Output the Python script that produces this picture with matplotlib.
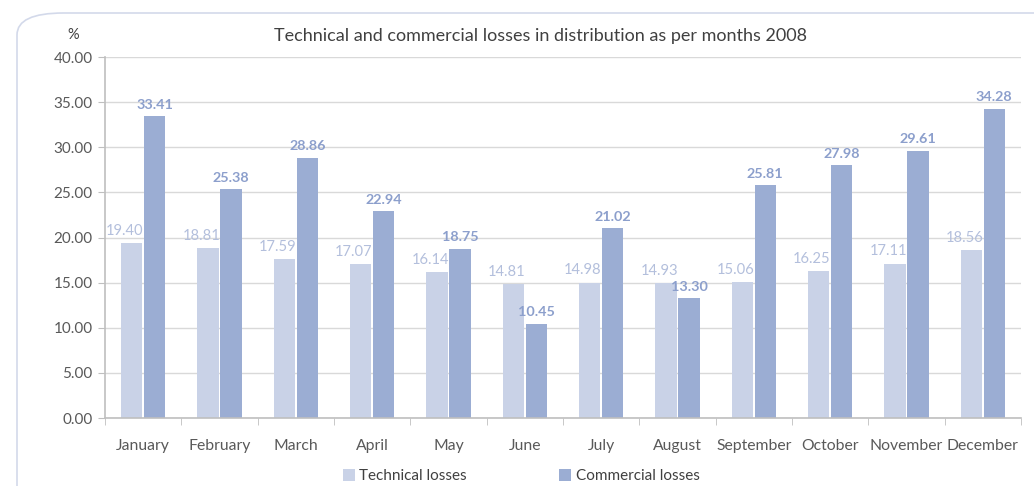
import numpy as np
import matplotlib
matplotlib.use('Agg')
import matplotlib.pyplot as plt
from matplotlib.patches import FancyBboxPatch, Patch

# Data
months = ['January', 'February', 'March', 'April', 'May', 'June', 'July',
          'August', 'September', 'October', 'November', 'December']
technical = [19.40, 18.81, 17.59, 17.07, 16.14, 14.81, 14.98, 14.93, 15.06, 16.25, 17.11, 18.56]
commercial = [33.41, 25.38, 28.86, 22.94, 18.75, 10.45, 21.02, 13.30, 25.81, 27.98, 29.61, 34.28]
y_ticks = [0, 5, 10, 15, 20, 25, 30, 35, 40]

tech_color = '#C9D2E7'
comm_color = '#9BADD3'
tech_label_color = '#B3BFDC'
comm_label_color = '#8C9FCC'
text_color = '#595959'

plt.rcParams['font.family'] = ['Lato', 'DejaVu Sans']

fig = plt.figure(figsize=(10.34, 4.86), dpi=100)

# rounded frame around the chart
frame = FancyBboxPatch((17 / 1034, -0.05), 1.05, 1 - 13 / 486 + 0.05,
                       boxstyle='round,pad=0,rounding_size=0.045',
                       transform=fig.transFigure, facecolor='none',
                       edgecolor='#D3D9EA', linewidth=1.2, zorder=-1)
fig.patches.append(frame)

ax = fig.add_axes([105 / 1034, 1 - 418 / 486, (1021 - 105) / 1034, (418 - 57) / 486])
ax.set_facecolor('none')

x = np.arange(len(months))
w = 0.28
off = 0.15
b1 = ax.bar(x - off, technical, w, color=tech_color, zorder=2)
b2 = ax.bar(x + off, commercial, w, color=comm_color, zorder=2)

# technical labels sit a bit left of their bars, like in the original
for xi, v in zip(x, technical):
    ax.text(xi - off - 0.09, v + 0.6, f'{v:.2f}', ha='center', va='bottom',
            fontsize=10.6, color=tech_label_color, zorder=3)
for xi, v in zip(x, commercial):
    ax.text(xi + off, v + 0.6, f'{v:.2f}', ha='center', va='bottom',
            fontsize=10.4, color=comm_label_color, fontweight='bold', zorder=3)

ax.set_xlim(-0.5, len(months) - 0.5)
ax.set_ylim(0, 40)
ax.set_yticks(y_ticks)
ax.set_yticklabels([f'{t:.2f}' for t in y_ticks], fontsize=11, color=text_color)
ax.set_xticks(x)
ax.set_xticklabels(months, fontsize=11.3, color=text_color)
ax.set_xticks(np.arange(-0.5, len(months)), minor=True)
ax.tick_params(axis='x', which='major', length=0, pad=15)
ax.tick_params(axis='x', which='minor', length=5, color='#BFBFBF', direction='out')
ax.tick_params(axis='y', length=5, color='#BFBFBF', direction='out', pad=4)

ax.grid(axis='y', color='#D9D9D9', linewidth=1, zorder=0)
for s in ['top', 'right']:
    ax.spines[s].set_visible(False)
for s in ['left', 'bottom']:
    ax.spines[s].set_color('#BFBFBF')
    ax.spines[s].set_linewidth(1.2)

fig.text(540 / 1034, 1 - 36 / 486, 'Technical and commercial losses in distribution as per months 2008',
         ha='center', va='center', fontsize=13, color='#404040')
fig.text(73 / 1034, 1 - 35 / 486, '%', ha='center', va='center', fontsize=10.5, color='#404040')

handles = [Patch(facecolor=tech_color, label='Technical losses'),
           Patch(facecolor=comm_color, label='Commercial losses')]
fig.legend(handles=handles, loc='center', bbox_to_anchor=(521 / 1034, 1 - 476 / 486),
           ncol=2, frameon=False, fontsize=11, handlelength=0.8, handleheight=0.8,
           handletextpad=0.3, columnspacing=6.0, labelcolor='#404040')

fig.savefig('out.png', dpi=100)
